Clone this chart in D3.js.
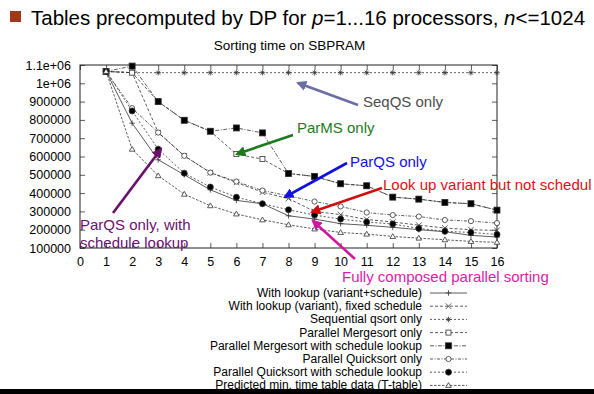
<!DOCTYPE html>
<html>
<head>
<meta charset="utf-8">
<script src="https://cdn.jsdelivr.net/npm/d3@7"></script>
<style>
  body { margin: 0; background: #fff; }
  svg { display: block; font-family: "Liberation Sans", Arial, sans-serif; }
</style>
</head>
<body>
<div id="chart"></div>
<script>
// processors p
const procs = [1, 2, 3, 4, 5, 6, 7, 8, 9, 10, 11, 12, 13, 14, 15, 16];

// sorting time per series
const withLookupFull = [1065000, 782000, 582000, 500000, 418000, 360000, 342000, 276000, 258000, 233000, 224000, 213000, 200000, 189000, 169000, 160000];
const withLookupVariant = [1065000, 1058000, 731000, 604000, 512000, 458000, 405000, 370000, 300000, 282000, 256000, 242000, 225000, 209000, 200000, 196000];
const seqQsort = [1065000, 1058000, 1058000, 1058000, 1058000, 1058000, 1058000, 1058000, 1058000, 1058000, 1058000, 1058000, 1058000, 1058000, 1058000, 1058000];
const parMergesort = [1065000, 1058000, 900000, 798000, 738000, 613000, 586000, 507000, 491000, 451000, 440000, 378000, 367000, 349000, 342000, 307000];
const parMergesortSched = [1065000, 1094000, 900000, 798000, 738000, 756000, 729000, 507000, 491000, 451000, 440000, 378000, 367000, 349000, 342000, 307000];
const parQuicksort = [1065000, 864000, 731000, 604000, 512000, 463000, 414000, 385000, 354000, 327000, 294000, 280000, 272000, 253000, 247000, 236000];
const parQuicksortSched = [1065000, 849000, 640000, 509000, 433000, 378000, 342000, 309000, 280000, 258000, 242000, 231000, 207000, 191000, 185000, 174000];
const tTable = [1065000, 640000, 495000, 394000, 331000, 286000, 254000, 227000, 204000, 185000, 176000, 163000, 154000, 145000, 136000, 131000];

const seriesNames = [
  "With lookup (variant+schedule)",
  "With lookup (variant), fixed schedule",
  "Sequential qsort only",
  "Parallel Mergesort only",
  "Parallel Mergesort with schedule lookup",
  "Parallel Quicksort only",
  "Parallel Quicksort with schedule lookup",
  "Predicted min. time table data (T-table)"
];
const seriesValues = [withLookupFull, withLookupVariant, seqQsort, parMergesort, parMergesortSched, parQuicksort, parQuicksortSched, tTable];
const seriesMarkers = ["plus", "x", "star", "square", "squareFilled", "circle", "circleFilled", "triangle"];
const seriesDash = [null, "3,2", "2,2", "3,2", "4,1.5,1,1.5", "3,1.5,1,1.5", "2,2", "2.5,1.5"];

const xTicks = [0, 1, 2, 3, 4, 5, 6, 7, 8, 9, 10, 11, 12, 13, 14, 15, 16];
const yTicks = [100000, 200000, 300000, 400000, 500000, 600000, 700000, 800000, 900000, 1000000, 1100000];
const yTickLabels = ["100000", "200000", "300000", "400000", "500000", "600000", "700000", "800000", "900000", "1e+06", "1.1e+06"];

const annotations = [
  { text: ["SeqQS only"], color: "#4d4d4d", arrow: "#6a6ea6", tx: 363, ty: 107, from: [358, 105], to: [298, 83] },
  { text: ["ParMS only"], color: "#1c7a1c", arrow: "#1c7a1c", tx: 297, ty: 133, from: [293, 135], to: [237, 154] },
  { text: ["ParQS only"], color: "#1010e0", arrow: "#1010e0", tx: 350, ty: 167, from: [347, 163], to: [285, 197] },
  { text: ["Look up variant but not schedul"], color: "#e01010", arrow: "#d01010", tx: 383, ty: 190, from: [382, 188], to: [312, 212] },
  { text: ["Fully composed parallel sorting"], color: "#e01aa8", arrow: "#d0189e", tx: 342, ty: 282, from: [355, 259], to: [313, 221] },
  { text: ["ParQS only, with", "schedule lookup"], color: "#6c106c", arrow: "#6c106c", tx: 80, ty: 230, from: [113, 213], to: [161, 149] }
];

const W = 594, H = 394;
const svg = d3.select("#chart").append("svg").attr("width", W).attr("height", H);

// slide heading
svg.append("rect").attr("x", 10).attr("y", 11).attr("width", 11).attr("height", 11).attr("fill", "#a0391a");
const head = svg.append("text").attr("x", 31).attr("y", 25).attr("font-size", 20.5).attr("fill", "#000");
head.append("tspan").text("Tables precomputed by DP for ");
head.append("tspan").attr("font-style", "italic").text("p");
head.append("tspan").text("=1...16 processors, ");
head.append("tspan").attr("font-style", "italic").text("n");
head.append("tspan").text("<=1024");

const margin = { left: 80, right: 97, top: 65, bottom: 146 };
const x = d3.scaleLinear().domain([0, 16]).range([margin.left, W - margin.right]);
const y = d3.scaleLinear().domain([100000, 1100000]).range([H - margin.bottom, margin.top]);

svg.append("text").attr("x", (x(0) + x(16)) / 2 + 1).attr("y", 50).attr("text-anchor", "middle")
  .attr("font-size", 13.5).text("Sorting time on SBPRAM");

// axes with inward ticks
const fmtY = (d) => yTickLabels[yTicks.indexOf(d)];
svg.append("g").attr("transform", `translate(${x(0)},0)`)
  .call(d3.axisLeft(y).tickValues(yTicks).tickFormat(fmtY).tickSize(-5).tickPadding(9))
  .call((g) => g.select(".domain").remove())
  .selectAll("text").attr("font-size", 12.5).attr("fill", "#000");
svg.append("g").attr("transform", `translate(${x(16)},0)`)
  .call(d3.axisRight(y).tickValues(yTicks).tickFormat("").tickSize(-5))
  .call((g) => g.select(".domain").remove());
svg.append("g").attr("transform", `translate(0,${y(100000)})`)
  .call(d3.axisBottom(x).tickValues(xTicks).tickFormat(d3.format("d")).tickSize(-5).tickPadding(9))
  .call((g) => g.select(".domain").remove())
  .selectAll("text").attr("font-size", 12.5).attr("fill", "#000");
svg.append("g").attr("transform", `translate(0,${y(1100000)})`)
  .call(d3.axisTop(x).tickValues(xTicks).tickFormat("").tickSize(-5))
  .call((g) => g.select(".domain").remove());
svg.selectAll(".tick line").attr("stroke", "#333").attr("stroke-width", 0.8);

svg.append("rect").attr("x", x(0)).attr("y", y(1100000))
  .attr("width", x(16) - x(0)).attr("height", y(100000) - y(1100000))
  .attr("fill", "none").attr("stroke", "#222").attr("stroke-width", 1);

function marker(g, kind, cx, cy) {
  const s = 2.8;
  let el;
  if (kind === "plus") {
    el = g.append("path").attr("d", `M${cx - s},${cy}H${cx + s}M${cx},${cy - s}V${cy + s}`).attr("fill", "none");
  } else if (kind === "x") {
    el = g.append("path").attr("d", `M${cx - s},${cy - s}L${cx + s},${cy + s}M${cx - s},${cy + s}L${cx + s},${cy - s}`).attr("fill", "none");
  } else if (kind === "star") {
    el = g.append("path").attr("d", `M${cx - s},${cy}H${cx + s}M${cx},${cy - s}V${cy + s}M${cx - s * 0.7},${cy - s * 0.7}L${cx + s * 0.7},${cy + s * 0.7}M${cx - s * 0.7},${cy + s * 0.7}L${cx + s * 0.7},${cy - s * 0.7}`).attr("fill", "none");
  } else if (kind === "square") {
    el = g.append("rect").attr("x", cx - 2.5).attr("y", cy - 2.5).attr("width", 5).attr("height", 5).attr("fill", "#fff");
  } else if (kind === "squareFilled") {
    el = g.append("rect").attr("x", cx - 3).attr("y", cy - 3).attr("width", 6).attr("height", 6).attr("fill", "#000");
  } else if (kind === "circle") {
    el = g.append("circle").attr("cx", cx).attr("cy", cy).attr("r", 2.6).attr("fill", "#fff");
  } else if (kind === "circleFilled") {
    el = g.append("circle").attr("cx", cx).attr("cy", cy).attr("r", 3).attr("fill", "#000");
  } else {
    el = g.append("path").attr("d", `M${cx},${cy - 2.8}L${cx + 2.8},${cy + 2}L${cx - 2.8},${cy + 2}Z`).attr("fill", "#fff");
  }
  el.attr("stroke", "#333").attr("stroke-width", 0.8);
}

const line = d3.line().x((d, i) => x(procs[i])).y((d) => y(d));

seriesValues.forEach((vals, k) => {
  const g = svg.append("g");
  g.append("path").datum(vals).attr("d", line)
    .attr("fill", "none").attr("stroke", "#333").attr("stroke-width", 0.8)
    .attr("stroke-dasharray", seriesDash[k]);
  vals.forEach((v, i) => marker(g, seriesMarkers[k], x(procs[i]), y(v)));
});

// legend
const lg = svg.append("g");
seriesNames.forEach((name, k) => {
  const ly = 297 + k * 13.2;
  lg.append("text").attr("x", 422).attr("y", ly).attr("text-anchor", "end")
    .attr("font-size", 12).text(name);
  lg.append("line").attr("x1", 430).attr("x2", 467).attr("y1", ly - 4).attr("y2", ly - 4)
    .attr("stroke", "#333").attr("stroke-width", 0.8).attr("stroke-dasharray", seriesDash[k]);
  marker(lg, seriesMarkers[k], 448.5, ly - 4);
});

// annotations with arrows
svg.append("defs").selectAll("marker").data(annotations).join("marker")
  .attr("id", (d, i) => "ah" + i)
  .attr("viewBox", "0 0 10 10").attr("refX", 8).attr("refY", 5)
  .attr("markerWidth", 4).attr("markerHeight", 4).attr("orient", "auto")
  .append("path").attr("d", "M0,0L10,5L0,10Z").attr("fill", (d) => d.arrow);

annotations.forEach((a, i) => {
  svg.append("line").attr("x1", a.from[0]).attr("y1", a.from[1])
    .attr("x2", a.to[0]).attr("y2", a.to[1])
    .attr("stroke", a.arrow).attr("stroke-width", 2.6)
    .attr("marker-end", `url(#ah${i})`);
  a.text.forEach((t, j) => {
    svg.append("text").attr("x", a.tx).attr("y", a.ty + j * 18)
      .attr("font-size", 15).attr("fill", a.color).text(t);
  });
});

// slide bottom rule
svg.append("rect").attr("x", 0).attr("y", 389).attr("width", W).attr("height", 5).attr("fill", "#000");
</script>
</body>
</html>
